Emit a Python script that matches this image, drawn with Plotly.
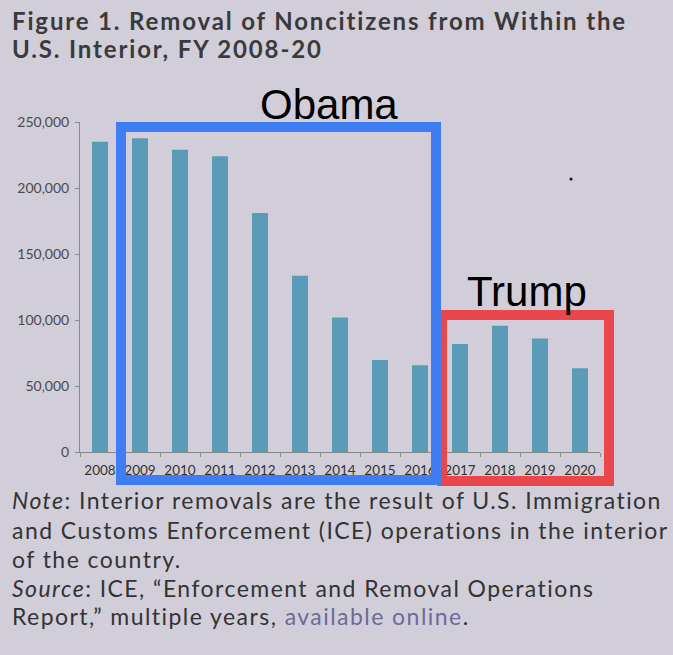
import plotly.graph_objects as go

years = ["2008", "2009", "2010", "2011", "2012", "2013", "2014",
         "2015", "2016", "2017", "2018", "2019", "2020"]
removals = [235000, 237600, 229000, 224000, 181000, 133600, 101800,
            69700, 65700, 81800, 95700, 86000, 63400]
y_ticks = [0, 50000, 100000, 150000, 200000, 250000]

W, H = 673, 655
L, R, T, B = 80, 600, 122, 452  # plot area in pixels

def px(x):
    return (x - L) / (R - L)

def py(y):
    return (B - y) / (B - T)

BG = "#d1ced9"
fig = go.Figure()
fig.add_trace(go.Bar(x=years, y=removals, marker_color="#5a9bb7",
                     marker_line_width=0, width=0.4))

fig.update_layout(
    width=W, height=H,
    margin=dict(l=L, r=W - R, t=T, b=H - B),
    paper_bgcolor=BG, plot_bgcolor=BG,
    showlegend=False,
    font=dict(family="Lato", color="#444"),
    xaxis=dict(type="category", range=[-0.5, 12.5], showline=True,
               linecolor="#8a8a8a", linewidth=1, ticks="outside",
               tickson="boundaries", ticklen=4, tickcolor="#8a8a8a",
               ticklabelstandoff=6, tickangle=0,
               tickfont=dict(family="Lato", size=13.5, color="#333"),
               showgrid=False, fixedrange=True),
    yaxis=dict(range=[0, 250000], tickvals=y_ticks, tickformat=",",
               showline=True, linecolor="#8a8a8a", linewidth=1,
               ticks="outside", ticklen=4, tickcolor="#8a8a8a",
               ticklabelstandoff=3,
               tickfont=dict(family="Lato", size=14, color="#4a4a4a"),
               showgrid=False, zeroline=False, fixedrange=True),
)

shapes = [
    dict(type="rect", xref="paper", yref="paper",
         x0=px(442), x1=px(609), y0=py(315), y1=py(481),
         line=dict(color="#e9474b", width=10)),
    dict(type="rect", xref="paper", yref="paper",
         x0=px(121), x1=px(436), y0=py(127), y1=py(480),
         line=dict(color="#3f7ef2", width=10)),
    dict(type="circle", xref="paper", yref="paper",
         x0=px(569.5), x1=px(572.5), y0=py(177.5), y1=py(180.5),
         fillcolor="#111", line=dict(width=0)),
]
fig.update_layout(shapes=shapes)

def ann(text, x, y, size, color="#333", anchor="left", family="Lato", ls=None):
    if ls is not None:
        text = "<span style='letter-spacing:%spx'>%s</span>" % (ls, text)
    fig.add_annotation(text=text, xref="paper", yref="paper",
                       x=px(x), y=py(y), xanchor=anchor, yanchor="middle",
                       showarrow=False,
                       font=dict(family=family, size=size, color=color))

ann("<b>Figure 1. Removal of Noncitizens from Within the</b>", 10, 21, 24, "#3a3a3a", ls=1.85)
ann("<b>U.S. Interior, FY 2008-20</b>", 10, 48, 24, "#3a3a3a", ls=1.85)
ann("Obama", 329, 104, 42, "#000", "center", "Liberation Sans")
ann("Trump", 527, 291, 42, "#000", "center", "Liberation Sans")

note_lines = [
    "<i>Note</i>: Interior removals are the result of U.S. Immigration",
    "and Customs Enforcement (ICE) operations in the interior",
    "of the country.",
    "<i>Source</i>: ICE, \u201cEnforcement and Removal Operations",
    "Report,\u201d multiple years, <span style='color:#6c6a98'>available online</span>.",
]
note_y = [500, 530, 559, 588, 616]
for t, yy in zip(note_lines, note_y):
    ann(t, 10, yy, 23, "#333", ls=1.45)

fig.write_html("out.html")
